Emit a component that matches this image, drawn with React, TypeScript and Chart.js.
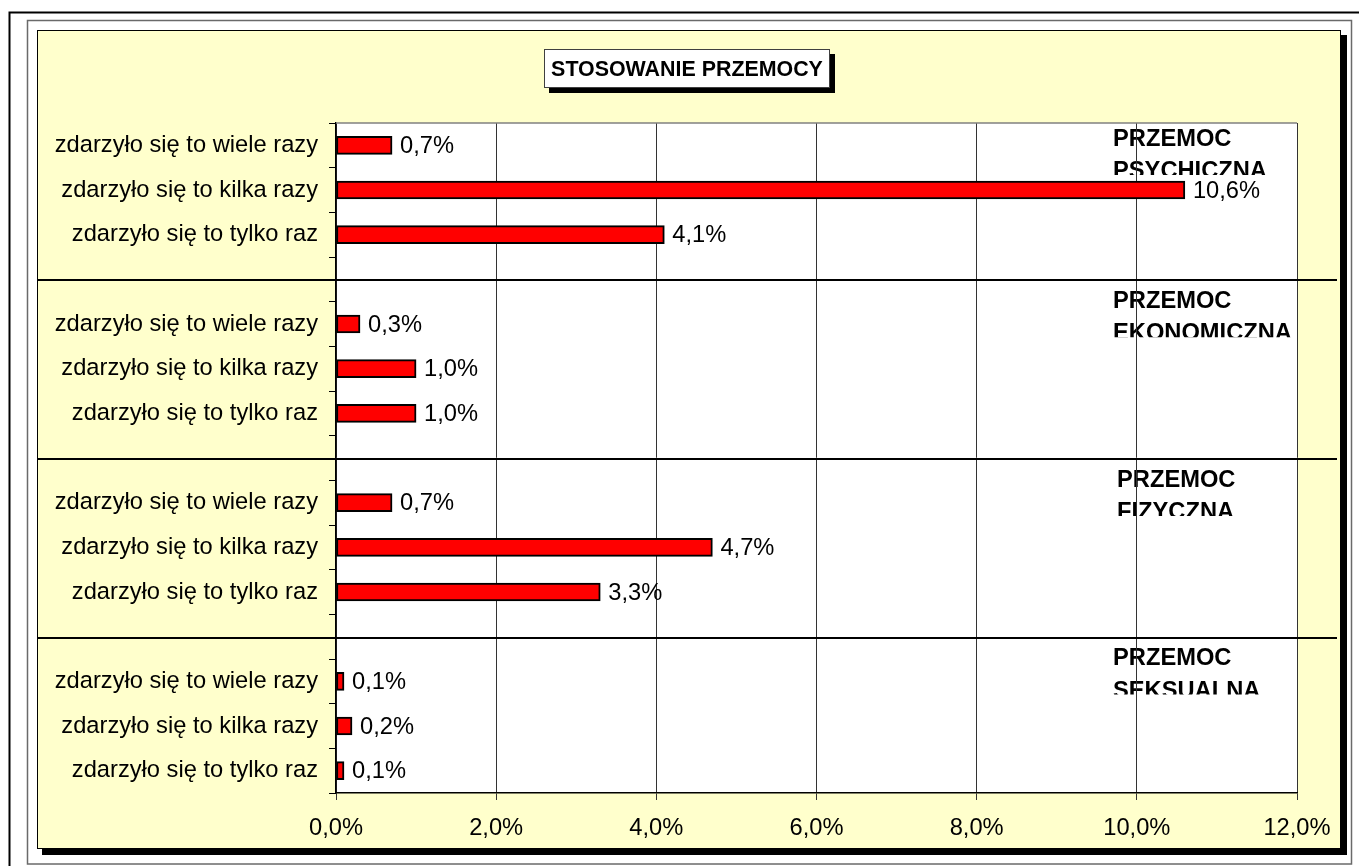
import React, { useEffect, useRef } from "react";
import { Chart, registerables } from "chart.js";

Chart.register(...registerables);

const W = 1359;
const H = 866;
const FONT = "'Liberation Sans', Arial, Helvetica, sans-serif";

const chartTitle = "STOSOWANIE PRZEMOCY";
const groupNames = [
  ["PRZEMOC", "PSYCHICZNA"],
  ["PRZEMOC", "EKONOMICZNA"],
  ["PRZEMOC", "FIZYCZNA"],
  ["PRZEMOC", "SEKSUALNA"],
];
const answers = [
  "zdarzyło się to wiele razy",
  "zdarzyło się to kilka razy",
  "zdarzyło się to tylko raz",
];
const psychiczna = [0.7, 10.6, 4.1];
const ekonomiczna = [0.3, 1.0, 1.0];
const fizyczna = [0.7, 4.7, 3.3];
const seksualna = [0.1, 0.2, 0.1];
const xTicksMax = 12;
const xTicksStep = 2;

// category slots: 3 answers per group, one blank slot between groups
const groupValues = [psychiczna, ekonomiczna, fizyczna, seksualna];
const categories: string[] = [];
const values: (number | null)[] = [];
groupValues.forEach((g, gi) => {
  if (gi > 0) {
    categories.push("");
    values.push(null);
  }
  answers.forEach((a, i) => {
    categories.push(a);
    values.push(g[i]);
  });
});

const fmt = (v: number) => v.toFixed(1).replace(".", ",") + "%";

const framePlugin = {
  id: "framePlugin",
  beforeDraw(chart: any) {
    const ctx = chart.ctx as CanvasRenderingContext2D;
    const { left, right, top, bottom } = chart.chartArea;
    const yScale = chart.scales.y;
    ctx.save();
    ctx.fillStyle = "#ffffff";
    ctx.fillRect(0, 0, W, H);
    // outer black frame
    ctx.strokeStyle = "#000";
    ctx.lineWidth = 2;
    ctx.beginPath();
    ctx.moveTo(9.5, H + 5);
    ctx.lineTo(9.5, 12.5);
    ctx.lineTo(W + 5, 12.5);
    ctx.stroke();
    // gray frame
    ctx.strokeStyle = "#6a6a6a";
    ctx.lineWidth = 1.5;
    ctx.strokeRect(27.5, 20.5, 1324, 843.5);
    // shadow of chart area
    ctx.fillStyle = "#000";
    ctx.fillRect(42, 35, 1305, 820);
    // chart area
    ctx.fillStyle = "#FFFFCC";
    ctx.fillRect(37, 30, 1304, 819);
    ctx.strokeStyle = "#000";
    ctx.lineWidth = 1;
    ctx.strokeRect(37.5, 30.5, 1303, 818);
    // plot area
    ctx.fillStyle = "#ffffff";
    ctx.fillRect(left, top, right - left, bottom - top);

    // title box
    ctx.fillStyle = "#000";
    ctx.fillRect(549, 54, 286, 39);
    ctx.fillStyle = "#fff";
    ctx.fillRect(544, 49, 286, 39);
    ctx.strokeStyle = "#404040";
    ctx.lineWidth = 1;
    ctx.strokeRect(544.5, 49.5, 285, 38);
    ctx.fillStyle = "#000";
    ctx.font = `bold 21.4px ${FONT}`;
    ctx.textAlign = "center";
    ctx.textBaseline = "alphabetic";
    ctx.fillText(chartTitle, 687, 76);

    // group titles (clipped text boxes)
    ctx.font = `bold 23.7px ${FONT}`;
    ctx.textAlign = "left";
    groupNames.forEach((lines, g) => {
      const base = g === 0 ? top : yScale.getPixelForValue(4 * g - 1) + 1;
      const baseline = base + (g === 0 ? 22.5 : 27.5);
      const clipY = baseline + 32.4 - 3;
      const x = right - 184 + (g === 2 ? 4 : 0);
      ctx.save();
      ctx.beginPath();
      ctx.rect(x - 5, base + 1, 320, clipY - base - 1);
      ctx.clip();
      ctx.fillText(lines[0], x, baseline);
      ctx.fillText(lines[1], x, baseline + 32.4);
      ctx.restore();
    });
    ctx.restore();
  },
  afterDatasetsDraw(chart: any) {
    const ctx = chart.ctx as CanvasRenderingContext2D;
    const meta = chart.getDatasetMeta(0);
    ctx.save();
    ctx.font = `23.7px ${FONT}`;
    ctx.fillStyle = "#000";
    ctx.textAlign = "left";
    ctx.textBaseline = "middle";
    meta.data.forEach((el: any, i: number) => {
      const v = values[i];
      if (v === null || v === undefined) return;
      ctx.fillText(fmt(v), el.x + 8, el.y + 1);
    });
    ctx.restore();
  },
  afterDraw(chart: any) {
    const ctx = chart.ctx as CanvasRenderingContext2D;
    const { left, right, top } = chart.chartArea;
    const yScale = chart.scales.y;
    ctx.save();
    // plot top border
    ctx.strokeStyle = "#808080";
    ctx.lineWidth = 1.5;
    ctx.beginPath();
    ctx.moveTo(left, top);
    ctx.lineTo(right, top);
    ctx.stroke();
    // group dividers
    ctx.strokeStyle = "#000";
    ctx.lineWidth = 2;
    for (let g = 1; g < groupValues.length; g++) {
      const y = Math.round(yScale.getPixelForValue(4 * g - 1)) + 1;
      ctx.beginPath();
      ctx.moveTo(38, y);
      ctx.lineTo(1337, y);
      ctx.stroke();
    }
    ctx.restore();
  },
};

export default function App() {
  const ref = useRef<HTMLCanvasElement>(null);
  useEffect(() => {
    if (!ref.current) return;
    const chart = new Chart(ref.current, {
      type: "bar",
      data: {
        labels: categories,
        datasets: [
          {
            data: values as any,
            backgroundColor: "#FF0000",
            borderColor: "#000000",
            borderWidth: 2,
            borderSkipped: false,
            barThickness: 18,
          },
        ],
      },
      options: {
        indexAxis: "y",
        animation: false,
        responsive: false,
        devicePixelRatio: 1,
        layout: { padding: { top: 123, right: 62, bottom: 0, left: 0 } },
        plugins: {
          legend: { display: false },
          tooltip: { enabled: false },
          title: { display: false },
        },
        scales: {
          x: {
            min: 0,
            max: xTicksMax,
            afterFit: (s: any) => {
              s.height = 73;
            },
            ticks: {
              stepSize: xTicksStep,
              color: "#000",
              font: { family: FONT, size: 23.7 },
              padding: 14,
              callback: (v: any) => fmt(Number(v)),
            },
            grid: {
              color: "#333333",
              lineWidth: 1,
              tickLength: 7,
            },
            border: { color: "#000", width: 1.5 },
          },
          y: {
            type: "category",
            afterFit: (s: any) => {
              s.width = 336;
            },
            ticks: {
              color: "#000",
              font: { family: FONT, size: 23.7 },
              padding: 11,
              autoSkip: false,
            },
            grid: {
              drawOnChartArea: false,
              drawTicks: true,
              tickLength: 7,
              color: "#000",
            },
            border: { color: "#000", width: 1.5 },
          },
        },
      },
      plugins: [framePlugin],
    } as any);
    return () => chart.destroy();
  }, []);
  return (
    <div style={{ position: "fixed", left: 0, top: 0, width: W, height: H, background: "#fff" }}>
      <canvas ref={ref} width={W} height={H} style={{ display: "block", width: W, height: H }} />
    </div>
  );
}
